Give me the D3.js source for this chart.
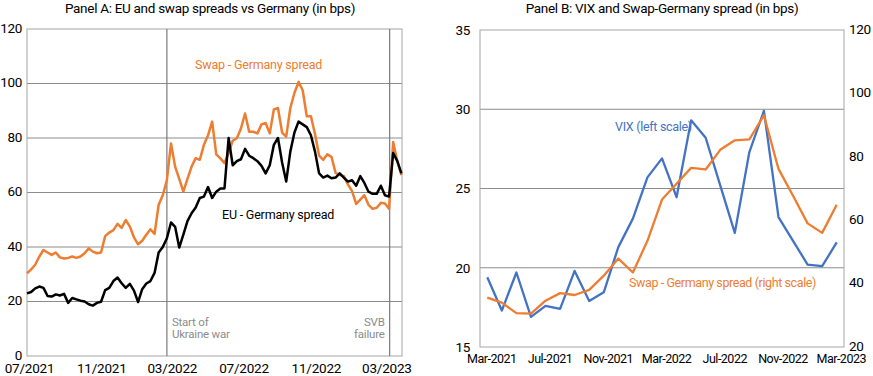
<!DOCTYPE html>
<meta charset="utf-8">
<script src="https://cdn.jsdelivr.net/npm/d3@7"></script>
<style>
body { margin: 0; background: #fff; }
text { font-family: Roboto, "Noto Sans", sans-serif; }
.grid { stroke: #8c8c8c; stroke-width: 1; }
.frame { fill: none; stroke: #a6a6a6; stroke-width: 1; }
</style>
<div id="chart"></div>
<script>
// ---- Panel A: weekly readings, Jul 2021 - Mar 2023 (bps)
const weeks = d3.timeDay.range(new Date(2021, 6, 1), new Date(2023, 2, 31), 7);
const swapGer = [30.3, 31.8, 33.5, 36.5, 38.9, 38.0, 37.1, 38.0, 36.2, 35.8,
  36.0, 36.5, 36.0, 36.5, 37.7, 39.5, 38.3, 37.7, 38.0, 44.0,
  45.3, 46.2, 48.5, 47.0, 49.9, 47.5, 43.5, 41.0, 42.3, 44.5,
  46.5, 44.8, 55.5, 59.0, 64.6, 78.0, 69.5, 65.0, 60.3, 65.0,
  69.5, 72.6, 72.0, 77.5, 81.0, 86.0, 74.0, 72.5, 70.8, 74.5,
  79.0, 79.9, 83.5, 89.0, 82.3, 82.3, 81.7, 85.0, 85.5, 81.7,
  90.5, 91.0, 82.0, 80.5, 91.0, 96.5, 100.6, 97.5, 88.0, 88.0,
  81.5, 73.5, 72.0, 74.0, 73.1, 67.2, 66.5, 66.0, 63.0, 60.5,
  55.8, 57.4, 59.0, 55.5, 54.0, 54.4, 56.2, 56.0, 54.0, 78.5,
  71.5, 66.4];
const euGer = [23.0, 23.5, 24.8, 25.5, 25.0, 22.0, 21.8, 22.6, 22.2, 22.8,
  19.5, 21.3, 20.8, 20.3, 20.0, 19.0, 18.5, 19.5, 19.9, 24.2,
  25.0, 27.5, 28.8, 26.7, 25.0, 26.5, 24.0, 19.8, 24.5, 26.6,
  27.5, 30.5, 38.0, 40.0, 43.2, 49.0, 47.4, 39.8, 44.5, 49.5,
  52.4, 54.5, 58.0, 58.5, 62.0, 58.0, 60.3, 61.5, 61.5, 80.0,
  70.0, 71.5, 72.2, 76.0, 73.5, 72.6, 71.5, 69.8, 67.0, 70.0,
  77.5, 80.0, 71.0, 64.0, 75.0, 82.0, 86.0, 85.0, 84.0, 81.0,
  75.0, 67.0, 65.5, 66.2, 65.2, 65.5, 67.0, 65.5, 64.0, 64.5,
  62.5, 66.0, 63.5, 60.3, 59.5, 59.5, 62.5, 59.0, 58.5, 74.5,
  71.5, 67.0];
const events = [
  { date: new Date(2022, 1, 24), lines: ["Start of", "Ukraine war"], anchor: "start" },
  { date: new Date(2023, 2, 10), lines: ["SVB", "failure"], anchor: "end" }
];
const ticksA = [0, 20, 40, 60, 80, 100, 120];
const monthTicksA = [new Date(2021, 6, 1), new Date(2021, 10, 1), new Date(2022, 2, 1),
  new Date(2022, 6, 1), new Date(2022, 10, 1), new Date(2023, 2, 1)];

// ---- Panel B: monthly, Mar 2021 - Mar 2023
const months = ["2021-03", "2021-04", "2021-05", "2021-06", "2021-07", "2021-08", "2021-09",
  "2021-10", "2021-11", "2021-12", "2022-01", "2022-02", "2022-03", "2022-04", "2022-05",
  "2022-06", "2022-07", "2022-08", "2022-09", "2022-10", "2022-11", "2022-12", "2023-01",
  "2023-02", "2023-03"];
const vix = [19.4, 17.3, 19.7, 16.9, 17.6, 17.4, 19.8, 17.9, 18.45, 21.3, 23.1, 25.7, 26.9,
  24.45, 29.3, 28.2, 25.2, 22.2, 27.3, 29.9, 23.2, 21.7, 20.2, 20.1, 21.6];
const swapMonthly = [35.6, 34.0, 30.7, 30.5, 34.6, 37.0, 36.4, 38.0, 42.5, 47.9, 43.5, 53.5,
  66.5, 71.5, 76.5, 76.0, 82.2, 85.2, 85.5, 93.1, 76.2, 67.7, 59.0, 56.0, 64.9];
const leftTicksB = [15, 20, 25, 30, 35];
const rightTicksB = [20, 40, 60, 80, 100, 120];
const monthLabelsB = ["2021-03", "2021-07", "2021-11", "2022-03", "2022-07", "2022-11", "2023-03"];

const orange = "#ED7D31", blue = "#4472C4";

const svg = d3.select("#chart").append("svg")
  .attr("width", 873).attr("height", 376);

function styleTicks(sel, size, spacing) {
  sel.selectAll("text").style("font-size", size + "px").attr("fill", "#000")
    .style("font-family", "Roboto, sans-serif")
    .style("letter-spacing", (spacing || 0) + "px");
}

// =========== Panel A
const a = { left: 27, right: 402, top: 29, bottom: 356 };
const xA = d3.scaleTime()
  .domain([new Date(2021, 6, 1), new Date(2023, 2, 31)])
  .range([a.left, a.right]);
const yA = d3.scaleLinear().domain([0, 120]).range([a.bottom, a.top]);

const gA = svg.append("g");
gA.append("text").attr("x", 210).attr("y", 13).attr("text-anchor", "middle")
  .style("font-size", "13.5px").style("letter-spacing", "-0.3px").attr("fill", "#000")
  .text("Panel A: EU and swap spreads vs Germany (in bps)");

gA.append("g").selectAll("line").data(ticksA.slice(1, -1)).join("line")
  .attr("class", "grid")
  .attr("x1", a.left).attr("x2", a.right)
  .attr("y1", d => yA(d)).attr("y2", d => yA(d));
gA.append("rect").attr("class", "frame")
  .attr("x", a.left).attr("y", a.top)
  .attr("width", a.right - a.left).attr("height", a.bottom - a.top);

// y axis labels
gA.append("g").attr("transform", `translate(${a.left},-1)`)
  .call(d3.axisLeft(yA).tickValues(ticksA).tickSize(0).tickPadding(5))
  .call(g => g.select(".domain").remove())
  .call(g => styleTicks(g, 13.5, -0.3));

// x axis labels
gA.append("g").attr("transform", `translate(2,${a.bottom})`)
  .call(d3.axisBottom(xA).tickValues(monthTicksA)
    .tickFormat(d3.timeFormat("%m/%Y")).tickSize(0).tickPadding(7))
  .call(g => g.select(".domain").remove())
  .call(g => styleTicks(g, 13.5, -0.2));

// event lines
events.forEach(ev => {
  const x = xA(ev.date);
  gA.append("line").attr("x1", x).attr("x2", x)
    .attr("y1", a.top).attr("y2", a.bottom)
    .attr("stroke", "#7a7a7a").attr("stroke-width", 1.2);
  const tx = ev.anchor === "start" ? x + 5 : x - 5;
  ev.lines.forEach((s, i) => {
    gA.append("text").attr("x", tx).attr("y", 326 + i * 12)
      .attr("text-anchor", ev.anchor).attr("fill", "#8c8c8c")
      .style("font-size", "11.5px").style("letter-spacing", "-0.2px").text(s);
  });
});

const lineA = vals => d3.line()
  .x((d, i) => xA(weeks[i]))
  .y(d => yA(d))(vals);

gA.append("path").attr("d", lineA(swapGer))
  .attr("fill", "none").attr("stroke", orange).attr("stroke-width", 2.5)
  .attr("stroke-linejoin", "round");
gA.append("path").attr("d", lineA(euGer))
  .attr("fill", "none").attr("stroke", "#000").attr("stroke-width", 2.5)
  .attr("stroke-linejoin", "round");

gA.append("text").attr("x", 195).attr("y", 69).attr("fill", orange)
  .style("font-size", "12.5px").style("letter-spacing", "-0.2px").text("Swap - Germany spread");
gA.append("text").attr("x", 222).attr("y", 219).attr("fill", "#000")
  .style("font-size", "12.5px").style("letter-spacing", "-0.2px").text("EU - Germany spread");

// =========== Panel B
const b = { left: 480, right: 844, top: 30, bottom: 347 };
const xB = d3.scalePoint().domain(months).range([b.left, b.right]).padding(0.5);
const yL = d3.scaleLinear().domain([15, 35]).range([b.bottom, b.top]);
const yR = d3.scaleLinear().domain([20, 120]).range([b.bottom, b.top]);

const gB = svg.append("g");
gB.append("text").attr("x", 662).attr("y", 13).attr("text-anchor", "middle")
  .style("font-size", "13.5px").style("letter-spacing", "-0.3px").attr("fill", "#000")
  .text("Panel B: VIX and Swap-Germany spread (in bps)");

gB.append("g").selectAll("line").data(leftTicksB.slice(1, -1)).join("line")
  .attr("class", "grid")
  .attr("x1", b.left).attr("x2", b.right)
  .attr("y1", d => yL(d)).attr("y2", d => yL(d));
gB.append("rect").attr("class", "frame")
  .attr("x", b.left).attr("y", b.top)
  .attr("width", b.right - b.left).attr("height", b.bottom - b.top);

gB.append("g").attr("transform", `translate(${b.left},0)`)
  .call(d3.axisLeft(yL).tickValues(leftTicksB).tickSize(0).tickPadding(10))
  .call(g => g.select(".domain").remove())
  .call(g => styleTicks(g, 13.5, -0.3));
gB.append("g").attr("transform", `translate(${b.right},-1)`)
  .call(d3.axisRight(yR).tickValues(rightTicksB).tickSize(0).tickPadding(5))
  .call(g => g.select(".domain").remove())
  .call(g => styleTicks(g, 13.5, -0.3));

const fmtMonth = d3.timeFormat("%b-%Y"), parseMonth = d3.timeParse("%Y-%m");
gB.append("g").attr("transform", `translate(4,${b.bottom})`)
  .call(d3.axisBottom(xB).tickValues(monthLabelsB)
    .tickFormat(d => fmtMonth(parseMonth(d))).tickSize(0).tickPadding(7))
  .call(g => g.select(".domain").remove())
  .call(g => styleTicks(g, 12.5, -0.5));

gB.append("path")
  .attr("d", d3.line().x((d, i) => xB(months[i])).y(d => yL(d))(vix))
  .attr("fill", "none").attr("stroke", blue).attr("stroke-width", 2.3)
  .attr("stroke-linejoin", "round");
gB.append("path")
  .attr("d", d3.line().x((d, i) => xB(months[i])).y(d => yR(d))(swapMonthly))
  .attr("fill", "none").attr("stroke", orange).attr("stroke-width", 2.3)
  .attr("stroke-linejoin", "round");

gB.append("text").attr("x", 615).attr("y", 131).attr("fill", blue)
  .style("font-size", "12.5px").style("letter-spacing", "-0.3px").text("VIX (left scale)");
gB.append("text").attr("x", 629).attr("y", 287).attr("fill", orange)
  .style("font-size", "12.5px").style("letter-spacing", "-0.4px").text("Swap - Germany spread (right scale)");
</script>
